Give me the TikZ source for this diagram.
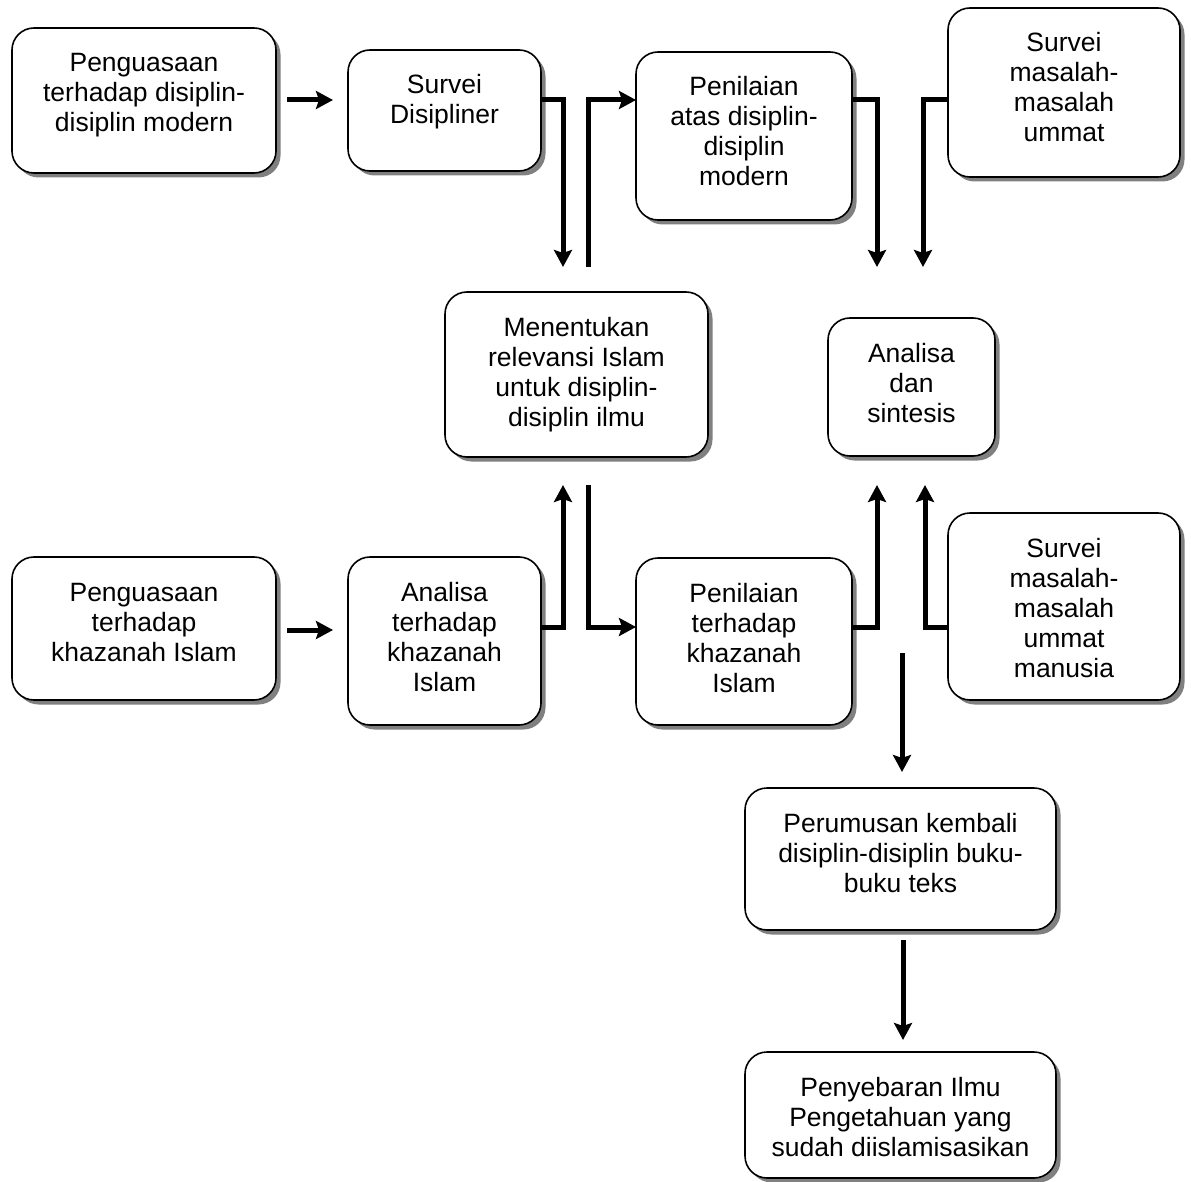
\documentclass[tikz,border=0pt]{standalone}
\usepackage{fontspec}
\setmainfont{Liberation Sans}
\usetikzlibrary{arrows.meta,shadows}
\newlength\boxpad
\setlength\boxpad{23pt}
\tikzset{
  boxst/.style={draw=black, line width=1.6pt, fill=white, rounded corners=22pt,
    inner sep=0pt, outer sep=0pt,
    drop shadow={shadow xshift=4.5pt, shadow yshift=-4.5pt, fill=black!50, opacity=1},
    font=\fontsize{26.5}{30}\selectfont},
  conn/.style={line width=5pt, line join=miter, -{Stealth[length=17pt,width=18pt,inset=3pt]}}
}
\newcommand\flowbox[6]{%
  \node[boxst] (#1) at ({(#2+#4)/2},{(#3+#5)/2})
   {\parbox[c][\dimexpr #5pt-#3pt\relax][t]{\dimexpr #4pt-#2pt\relax}{\centering\vspace*{\boxpad}\strut #6\par}};}
\begin{document}
\begin{tikzpicture}[x=1pt,y=-1pt]
\useasboundingbox (0,0) rectangle (1191,1182);
\fill[white] (0,0) rectangle (1191,1182);
% boxes
\flowbox{b1}{12}{28}{276}{173}{Penguasaan\\terhadap disiplin-\\disiplin modern}
\flowbox{b2}{348}{50}{541}{171}{Survei\\Disipliner}
\flowbox{b3}{636}{52}{852}{220}{Penilaian\\atas disiplin-\\disiplin\\modern}
\flowbox{b4}{948}{8}{1180}{177}{Survei\\masalah-\\masalah\\ummat}
\flowbox{b5}{445}{292}{708}{457}{Menentukan\\relevansi Islam\\untuk disiplin-\\disiplin ilmu}
\flowbox{b6}{828}{318}{995}{456}{Analisa\\dan\\sintesis}
\flowbox{b7}{12}{557}{276}{700}{Penguasaan\\terhadap\\khazanah Islam}
\flowbox{b8}{348}{557}{541}{725}{Analisa\\terhadap\\khazanah\\Islam}
\flowbox{b9}{636}{558}{852}{725}{Penilaian\\terhadap\\khazanah\\Islam}
\flowbox{b10}{948}{513}{1180}{700}{Survei\\masalah-\\masalah\\ummat\\manusia}
\flowbox{b11}{745}{788}{1056}{930}{Perumusan kembali\\disiplin-disiplin buku-\\buku teks}
\flowbox{b12}{745}{1052}{1056}{1178}{Penyebaran Ilmu\\Pengetahuan yang\\sudah diislamisasikan}
% free ends
\coordinate (c1) at (563,267);
\coordinate (c2) at (588,267);
\coordinate (c3) at (877,267);
\coordinate (c4) at (923,267);
\coordinate (c5) at (563,485);
\coordinate (c6) at (588,485);
\coordinate (c7) at (877,485);
\coordinate (c8) at (925,485);
\coordinate (c9) at (902,653);
% connectors
\draw[conn, shorten <=11pt, shorten >=15pt] (b1.east |- 0,100) -- (b2.west |- 0,100);
\draw[conn, shorten <=11pt, shorten >=15pt] (b7.east |- 0,630) -- (b8.west |- 0,630);
\draw[conn] (b2.east |- 0,100) -| (c1);
\draw[conn] (c2) |- (b3.west |- 0,100);
\draw[conn] (b3.east |- 0,100) -| (c3);
\draw[conn] (b4.west |- 0,100) -| (c4);
\draw[conn] (b8.east |- 0,627) -| (c5);
\draw[conn] (c6) |- (b9.west |- 0,627);
\draw[conn] (b9.east |- 0,627) -| (c7);
\draw[conn] (b10.west |- 0,627) -| (c8);
\draw[conn, shorten >=16pt] (c9) -- (c9 |- b11.north);
\draw[conn, shorten <=10pt, shorten >=12pt] (b11.south -| 903,0) -- (b12.north -| 903,0);
\end{tikzpicture}
\end{document}
